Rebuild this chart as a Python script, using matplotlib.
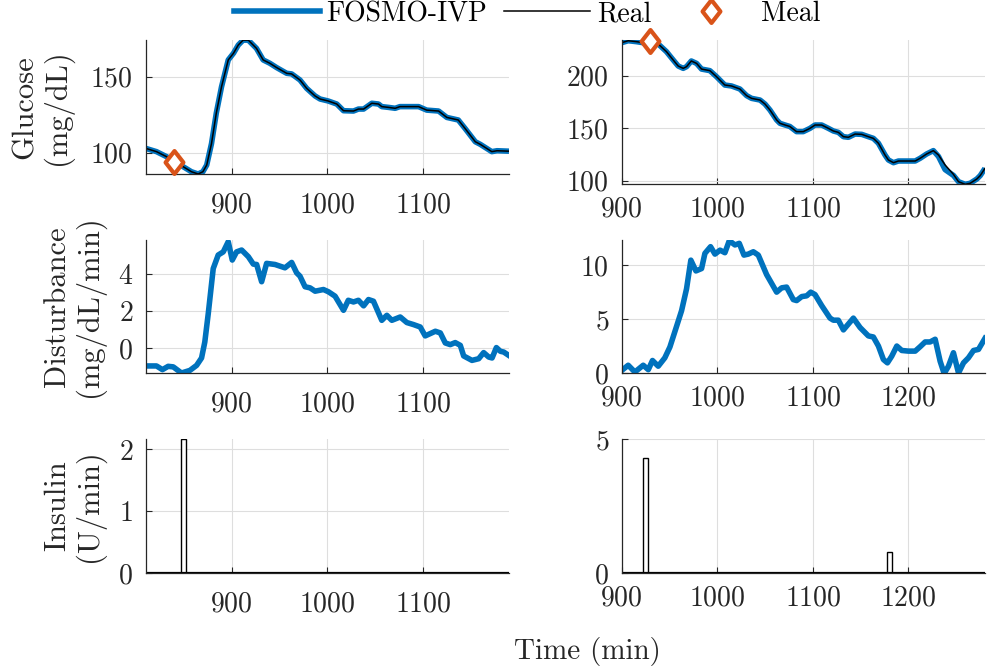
import matplotlib
matplotlib.use('Agg')
import matplotlib.pyplot as plt
from matplotlib.path import Path
from matplotlib.lines import Line2D

plt.rcParams['font.family'] = 'serif'
plt.rcParams['font.serif'] = ['cmr10']
plt.rcParams['mathtext.fontset'] = 'cm'
plt.rcParams['axes.formatter.use_mathtext'] = True

BLUE = '#0072BD'
ORANGE = '#D95319'
DARK = '#262626'

# ---- left patient: glucose (model and CGM are on top of each other)
t_g1 = [810, 821.5, 832, 839, 849.4, 858, 865, 870, 874, 879, 884, 889.5, 896.5, 902,
        907, 912, 917.5, 926, 933, 940, 947, 957.6, 962.8, 971.5, 978.5, 987.3, 992.5,
        1001, 1010, 1017, 1027.4, 1032.6, 1038, 1046.6, 1053.6, 1057, 1064, 1071, 1076,
        1095.5, 1104, 1116.4, 1125, 1137, 1144, 1154.8, 1160, 1172, 1177.5, 1190]
g_real1 = [102.9, 100.7, 97.4, 94.5, 90.8, 87.5, 86, 87.5, 91.9, 106, 126, 143.4, 161, 165.4,
           170.8, 174, 174, 168.6, 161, 158.8, 156, 152.2, 151.8, 147.8, 142.3, 137.3, 135.3,
           134, 132, 127.6, 127.4, 128.7, 128.7, 132.5, 132, 130.3, 129.8, 129.2, 130.3,
           130.3, 128, 127.4, 123.2, 121.5, 116, 107.2, 105.5, 100.7, 101.3, 101]
g_model1 = list(g_real1)

# ---- right patient: glucose
t_g2 = [900, 907, 915.7, 922.7, 931.4, 938.4, 947, 954, 959.3, 964.5, 968, 973, 978.5,
        983.7, 992.4, 999.4, 1008, 1015, 1023.8, 1030.8, 1036, 1044.8, 1050, 1055.2,
        1062.2, 1065.7, 1071, 1076, 1083, 1090, 1097, 1102.3, 1109.3, 1116.3, 1121.5,
        1126.7, 1132, 1137.2, 1144.2, 1151.1, 1158, 1163.3, 1168.6, 1175.5, 1179, 1184.3,
        1189.5, 1196.5, 1207, 1212.2, 1219, 1226, 1231.4, 1238.3, 1247, 1252.3, 1259.3,
        1264.5, 1271.5, 1275, 1280]
g_real2 = [231.4, 233.3, 232.4, 231.4, 233.3, 230.2, 222.9, 215, 209.2, 207, 208.6, 214,
           211.7, 206.3, 204.8, 199, 191.1, 190.2, 187.3, 181, 178.4, 176.8, 173, 167.3,
           157.8, 154.6, 153, 151.6, 146.7, 146.7, 149.8, 153, 153, 149.8, 147.3, 146,
           141.9, 141.3, 144.4, 144.1, 141.9, 140.3, 135.6, 124.4, 119.7, 117.1, 118.7,
           118.7, 118.7, 121.3, 125.4, 128.6, 124.4, 114.9, 106, 99, 96.5, 97.5, 101.6,
           104.8, 111.7]
g_model2 = [231.4, 233.3, 232.4, 231.4, 233.3, 230.2, 222.9, 215, 209.2, 207, 208.6, 214,
            211.7, 206.3, 204.8, 199, 191.1, 190.2, 187.3, 181, 178.4, 176.8, 173, 167.3,
            157.8, 154.6, 153, 151.6, 146.7, 146.7, 149.8, 153, 153, 149.8, 147.3, 146,
            141.9, 141.3, 144.4, 144.1, 141.9, 140.3, 135.6, 124.4, 119.7, 117.1, 118.7,
            118.7, 118.7, 121.3, 125.4, 128.6, 123.0, 110.5, 105.0, 99, 96.5, 97.5, 101.6,
            104.8, 111.7]

# ---- meals
meal_t1 = [840]
meal_g1 = [93.8]
meal_t2 = [930]
meal_g2 = [233]

# ---- disturbance estimates
t_d1 = [810, 821.5, 827.7, 833.7, 839, 847.6, 856.4, 863.4, 868.6, 872, 875.6, 880.8, 886,
        891.3, 896.5, 900.7, 905.2, 910.5, 917.5, 922.7, 926.2, 931.4, 936.6, 945.4, 955.8,
        962.8, 968, 971.5, 976.8, 982, 987.3, 996, 1001.2, 1008.2, 1017, 1022, 1027.4,
        1032.6, 1038, 1043.1, 1048.3, 1057, 1062.3, 1067.5, 1076.3, 1083.2, 1090.2, 1097.2,
        1102.4, 1113, 1118.2, 1123.4, 1128.6, 1133.8, 1139.1, 1142.6, 1151.3, 1158.3,
        1163.5, 1168.8, 1172.3, 1176.8, 1181, 1184.5, 1189.7]
d1 = [-0.95, -0.95, -1.15, -0.97, -1.0, -1.33, -1.19, -0.92, -0.52, 0.34, 1.87, 4.3, 5.03,
      5.2, 5.75, 4.76, 5.2, 5.3, 4.94, 4.54, 4.52, 3.59, 4.58, 4.52, 4.34, 4.63, 4.07, 3.89,
      3.32, 3.26, 3.08, 3.17, 3.05, 2.81, 2.05, 2.59, 2.5, 2.59, 2.29, 2.63, 2.54, 1.51, 1.78,
      1.51, 1.69, 1.39, 1.28, 1.15, 0.67, 0.92, 0.83, 0.29, 0.2, 0.31, 0.16, -0.41, -0.65,
      -0.56, -0.23, -0.47, -0.52, 0.04, -0.16, -0.2, -0.38]

t_d2 = [900, 907, 914, 922.7, 928, 932.4, 938.4, 945.3, 950.6, 957.5, 962.8, 968, 972.5,
        977.8, 983.7, 987.2, 993.1, 997.7, 1003, 1008.1, 1012.7, 1018.6, 1023.1, 1028,
        1032.5, 1037.8, 1043, 1051.7, 1062.2, 1067.4, 1072.6, 1079.6, 1083.1, 1088.4,
        1093.6, 1097.8, 1102.3, 1109.3, 1118, 1121.5, 1126.7, 1132, 1142.4, 1149.4, 1158.1,
        1163.3, 1168.6, 1173.8, 1178, 1182.5, 1187.8, 1193, 1200, 1207, 1212.2, 1217.4,
        1222.6, 1227.9, 1233.1, 1237.3, 1241.8, 1247, 1252.3, 1257.5, 1262.7, 1268, 1273.2,
        1280]
d2 = [0.22, 0.72, 0.09, 0.72, 0.31, 1.16, 0.63, 1.41, 2.41, 4.31, 5.78, 7.81, 10.47, 9.47,
      9.69, 11.1, 11.72, 11.03, 11.4, 11.16, 12.28, 11.88, 12.03, 10.94, 11.03, 11.25, 10.94,
      9.13, 7.5, 7.9, 7.97, 6.81, 6.72, 7.09, 7.16, 7.5, 7.28, 6.25, 5.09, 4.9, 4.9, 4.0,
      5.09, 4.22, 3.44, 3.34, 2.5, 1.25, 0.94, 1.56, 2.5, 2.09, 2.03, 2.03, 2.44, 2.88, 2.88,
      3.13, 1.09, -0.05, 0.63, 1.88, 0.0, 0.94, 1.41, 2.09, 2.19, 3.22]

# ---- insulin boluses (start time, rate over 5 min)
ins_t1 = [847]
ins_u1 = [2.17]
ins_t2 = [922.5, 1177.5]
ins_u2 = [4.28, 0.8]
ins_width = 5

W, H = 997, 671
fig = plt.figure(figsize=(W / 100, H / 100), dpi=100)


def box(x0, y0, x1, y1):
    # pixel box -> figure fraction
    return [x0 / W, 1 - y1 / H, (x1 - x0) / W, (y1 - y0) / H]


ax_g1 = fig.add_axes(box(145.5, 40, 509, 174))
ax_g2 = fig.add_axes(box(621.5, 40, 985, 184))
ax_d1 = fig.add_axes(box(145.5, 240, 509, 373))
ax_d2 = fig.add_axes(box(621.5, 240, 985, 373))
ax_u1 = fig.add_axes(box(145.5, 439, 509, 573))
ax_u2 = fig.add_axes(box(621.5, 439, 985, 573))

diamond = Path([(0, 1), (0.78, 0), (0, -1), (-0.78, 0), (0, 1)],
               [Path.MOVETO, Path.LINETO, Path.LINETO, Path.LINETO, Path.CLOSEPOLY])
meal_style = dict(ls='none', marker=diamond, ms=16.5, mew=3, mec=ORANGE, mfc='white')


def style(ax, xpad):
    for s in ['top', 'right']:
        ax.spines[s].set_visible(False)
    for s in ['left', 'bottom']:
        ax.spines[s].set_color(DARK)
        ax.spines[s].set_linewidth(0.9)
    ax.tick_params(direction='in', length=4, width=0.8, color=DARK, labelcolor=DARK,
                   labelsize=20)
    ax.tick_params(axis='y', pad=9)
    ax.tick_params(axis='x', pad=xpad)
    ax.grid(True, color='#dedede', lw=0.8)
    ax.set_axisbelow(True)


# glucose
ax_g1.plot(t_g1, g_model1, color=BLUE, lw=4, solid_capstyle='butt')
ax_g1.plot(t_g1, g_real1, color='k', lw=1.1)
ax_g1.plot(meal_t1, meal_g1, clip_on=False, zorder=5, **meal_style)
ax_g1.set_xlim(810, 1190)
ax_g1.set_ylim(86, 174.1)
ax_g1.set_yticks([100, 150])

ax_g2.plot(t_g2, g_model2, color=BLUE, lw=4, solid_capstyle='butt')
ax_g2.plot(t_g2, g_real2, color='k', lw=1.1)
ax_g2.plot(meal_t2, meal_g2, clip_on=False, zorder=5, **meal_style)
ax_g2.set_xlim(900, 1280)
ax_g2.set_ylim(96.8, 234)
ax_g2.set_yticks([100, 150, 200])

# disturbance
ax_d1.plot(t_d1, d1, color=BLUE, lw=4)
ax_d1.set_xlim(810, 1190)
ax_d1.set_ylim(-1.33, 5.84)
ax_d1.set_yticks([0, 2, 4])

ax_d2.plot(t_d2, d2, color=BLUE, lw=4)
ax_d2.set_xlim(900, 1280)
ax_d2.set_ylim(0, 12.34)
ax_d2.set_yticks([0, 5, 10])

# insulin
ax_u1.bar(ins_t1, ins_u1, width=ins_width, align='edge', color='white', edgecolor='k', lw=1)
ax_u1.axhline(0, color='k', lw=1.6)
ax_u1.set_xlim(810, 1190)
ax_u1.set_ylim(0, 2.17)
ax_u1.set_yticks([0, 1, 2])

ax_u2.bar(ins_t2, ins_u2, width=ins_width, align='edge', color='white', edgecolor='k', lw=1)
ax_u2.axhline(0, color='k', lw=1.6)
ax_u2.set_xlim(900, 1280)
ax_u2.set_ylim(0, 5)
ax_u2.set_yticks([0, 5])

for ax in [ax_g1, ax_d1, ax_u1]:
    style(ax, 13)
    ax.set_xticks([900, 1000, 1100])
for ax in [ax_g2, ax_d2, ax_u2]:
    style(ax, 9)
    ax.set_xticks([900, 1000, 1100, 1200])

lab = dict(fontsize=22, color=DARK, linespacing=1.1)
ax_g1.set_ylabel('Glucose\n(mg/dL)', **lab)
ax_d1.set_ylabel('Disturbance\n(mg/dL/min)', **lab)
ax_u1.set_ylabel('Insulin\n(U/min)', **lab)
ax_g1.yaxis.set_label_coords(-0.2, 0.5)
ax_d1.yaxis.set_label_coords(-0.112, 0.5)
ax_u1.yaxis.set_label_coords(-0.112, 0.5)

fig.text(587 / W, 1 - 651 / H, 'Time (min)', fontsize=21, color=DARK, ha='center',
         va='center')

handles = [Line2D([], [], color=BLUE, lw=4),
           Line2D([], [], color='k', lw=1.1),
           Line2D([], [], **meal_style)]
fig.legend(handles, ['FOSMO-IVP', 'Real', 'Meal'], loc='center', ncol=3,
           bbox_to_anchor=(527 / W, 1 - 14 / H), frameon=False, fontsize=20,
           handlelength=3.1, handletextpad=0.25, columnspacing=0.6, borderpad=0)

fig.savefig('out.png', dpi=100)
